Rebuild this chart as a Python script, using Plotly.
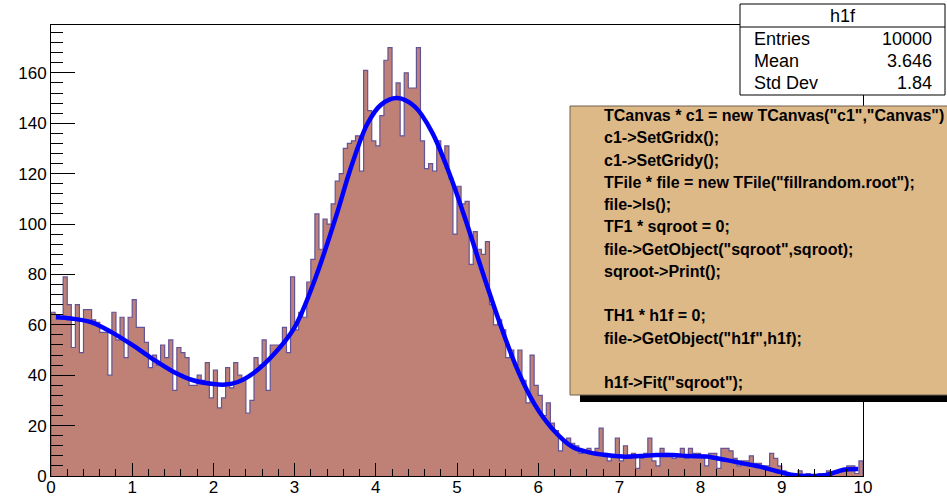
import numpy as np
import plotly.graph_objects as go

# ---------------- data ----------------
n_bins = 200
x_min, x_max = 0.0, 10.0

counts = [
    65, 64, 63, 79, 68, 51, 68, 49, 66, 66, 62, 61, 57, 57, 40, 65, 54, 63, 47, 63,
    70, 59, 59, 53, 43, 48, 44, 52, 47, 54, 34, 51, 49, 47, 36, 36, 40, 38, 45, 31,
    42, 27, 31, 43, 35, 45, 40, 38, 25, 30, 47, 44, 54, 34, 52, 52, 52, 59, 49, 79,
    58, 65, 63, 77, 86, 104, 90, 102, 100, 108, 117, 120, 130, 132, 133, 135, 121, 161, 145, 133,
    131, 143, 165, 170, 150, 156, 135, 160, 154, 154, 170, 133, 122, 124, 121, 133, 127, 131, 118, 96,
    115, 108, 109, 84, 97, 90, 88, 93, 68, 60, 62, 58, 47, 50, 44, 50, 38, 29, 48, 36,
    32, 24, 29, 21, 18, 10, 14, 15, 13, 12, 9, 10, 11, 9, 11, 19, 9, 6, 8, 15,
    6, 12, 7, 9, 3, 7, 9, 15, 6, 4, 11, 9, 8, 7, 8, 11, 7, 11, 9, 9,
    8, 4, 9, 9, 3, 11, 11, 10, 7, 4, 6, 6, 8, 5, 5, 4, 4, 9, 7, 4,
    2, 1, 1, 0, 2, 0, 1, 0, 0, 1, 1, 2, 1, 1, 2, 3, 4, 4, 1, 6,
]

fit_x = [0.06, 0.25, 0.5, 0.75, 1.0, 1.25, 1.5, 1.75, 2.0, 2.15, 2.3, 2.5, 2.75, 3.0,
         3.25, 3.5, 3.7, 3.9, 4.07, 4.265, 4.48, 4.69, 4.93, 5.14, 5.34, 5.55, 5.755,
         5.96, 6.17, 6.42, 6.63, 6.83, 7.04, 7.25, 7.45, 7.66, 7.86, 8.07, 8.32, 8.52,
         8.73, 8.93, 9.14, 9.34, 9.55, 9.75, 9.94]
fit_y = [63, 62.5, 61, 57, 52, 46.5, 41.5, 38, 36.5, 36.3, 37.3, 41, 48.5, 59,
         78, 102, 123, 140, 147.5, 150, 146.6, 136.6, 118, 98.3, 78.4, 58.6, 41.4,
         28.2, 18.9, 11.6, 9.4, 8.3, 7.7, 7.9, 8.3, 8.3, 7.9, 7.7, 6.3, 5.0,
         3.7, 2.0, 0.4, 0.0, 0.4, 2.4, 2.8]

stats_labels = ["Entries", "Mean", "Std Dev"]
stats_values = ["10000", "3.646", "1.84"]
hist_name = "h1f"

code_lines = [
    'TCanvas * c1 = new TCanvas("c1","Canvas")',
    'c1->SetGridx();',
    'c1->SetGridy();',
    'TFile * file = new TFile("fillrandom.root");',
    'file->ls();',
    'TF1 * sqroot = 0;',
    'file->GetObject("sqroot",sqroot);',
    'sqroot->Print();',
    '',
    'TH1 * h1f = 0;',
    'file->GetObject("h1f",h1f);',
    '',
    'h1f->Fit("sqroot");',
]

y_max = 179

# ---------------- styles ----------------
W, H = 947, 497
L, R, T, B = 51, 863, 25, 476
FONT = "Liberation Sans, Arial, Helvetica, sans-serif"
fill_col = "rgb(191,128,118)"
line_col = "rgb(100,84,150)"
fit_col = "rgb(0,0,255)"
pave_col = "rgb(222,185,136)"


def px(xp):
    return (xp - L) / (R - L)


def py(yp):
    return (B - yp) / (B - T)


edges = np.linspace(x_min, x_max, n_bins + 1)
hx = [edges[0]] + list(edges[:-1]) + [edges[-1], edges[-1]]
hy = [0] + list(counts) + [counts[-1], 0]

fig = go.Figure()
fig.add_trace(go.Scatter(
    x=hx, y=hy, mode="lines", line=dict(shape="hv", color=line_col, width=1.2),
    fill="tozeroy", fillcolor=fill_col, hoverinfo="skip", showlegend=False))
fig.add_trace(go.Scatter(
    x=fit_x, y=fit_y, mode="lines", line=dict(shape="spline", color=fit_col, width=4.5),
    hoverinfo="skip", showlegend=False))

shapes = []
annotations = []

# stats box
sx0, sx1, sy0, sy1 = 740, 945, 4, 95
shapes.append(dict(type="rect", xref="paper", yref="paper", layer="above",
                   x0=px(sx0), x1=px(sx1), y0=py(sy1), y1=py(sy0),
                   fillcolor="white", line=dict(color="black", width=1)))
shapes.append(dict(type="line", xref="paper", yref="paper", layer="above",
                   x0=px(sx0), x1=px(sx1), y0=py(27), y1=py(27),
                   line=dict(color="black", width=1)))
annotations.append(dict(xref="paper", yref="paper", x=px((sx0 + sx1) / 2), y=py(15.5),
                        text=hist_name, showarrow=False, xanchor="center", yanchor="middle",
                        font=dict(family=FONT, size=18, color="black")))
for i, (lab, val) in enumerate(zip(stats_labels, stats_values)):
    yc = 39 + 22 * i
    annotations.append(dict(xref="paper", yref="paper", x=px(752), y=py(yc), text=lab,
                            showarrow=False, xanchor="left", yanchor="middle",
                            font=dict(family=FONT, size=18, color="black")))
    annotations.append(dict(xref="paper", yref="paper", x=px(934), y=py(yc), text=val,
                            showarrow=False, xanchor="right", yanchor="middle",
                            font=dict(family=FONT, size=18, color="black")))

# code pave with shadow
cx0, cx1, cy0, cy1 = 570, 990, 106, 395
shapes.append(dict(type="rect", xref="paper", yref="paper", layer="above",
                   x0=px(cx0 + 10), x1=px(cx1 + 10), y0=py(cy1 + 7), y1=py(cy0 + 7),
                   fillcolor="black", line=dict(width=0)))
shapes.append(dict(type="rect", xref="paper", yref="paper", layer="above",
                   x0=px(cx0), x1=px(cx1), y0=py(cy1), y1=py(cy0),
                   fillcolor=pave_col, line=dict(color="rgb(110,95,80)", width=1)))
for i, line in enumerate(code_lines):
    if not line:
        continue
    annotations.append(dict(xref="paper", yref="paper", x=px(602), y=py(115.5 + 22.25 * i),
                            text=line, showarrow=False, xanchor="left", yanchor="middle",
                            font=dict(family=FONT, size=16, color="black", weight="bold")))

fig.update_layout(
    width=W, height=H,
    margin=dict(l=L, r=W - R, t=T, b=H - B, pad=0, autoexpand=False),
    paper_bgcolor="white", plot_bgcolor="white",
    shapes=shapes, annotations=annotations,
    showlegend=False,
    xaxis=dict(range=[x_min, x_max], dtick=1, tick0=0, ticks="inside", ticklen=13,
               tickwidth=1, tickcolor="black", showgrid=False, zeroline=False,
               showline=True, linecolor="black", linewidth=1, mirror=True,
               automargin=False, ticklabelstandoff=-4,
               tickfont=dict(family=FONT, size=17, color="black"),
               minor=dict(ticks="inside", ticklen=7, dtick=0.2, tickcolor="black",
                          tickwidth=1, showgrid=False)),
    yaxis=dict(range=[0, y_max], dtick=20, tick0=0, ticks="inside", ticklen=24,
               tickwidth=1, tickcolor="black", showgrid=False, zeroline=False,
               showline=True, linecolor="black", linewidth=1, mirror=True,
               automargin=False,
               tickfont=dict(family=FONT, size=17, color="black"),
               minor=dict(ticks="inside", ticklen=12, dtick=4, tickcolor="black",
                          tickwidth=1, showgrid=False)),
)

fig.write_html("out.html")
